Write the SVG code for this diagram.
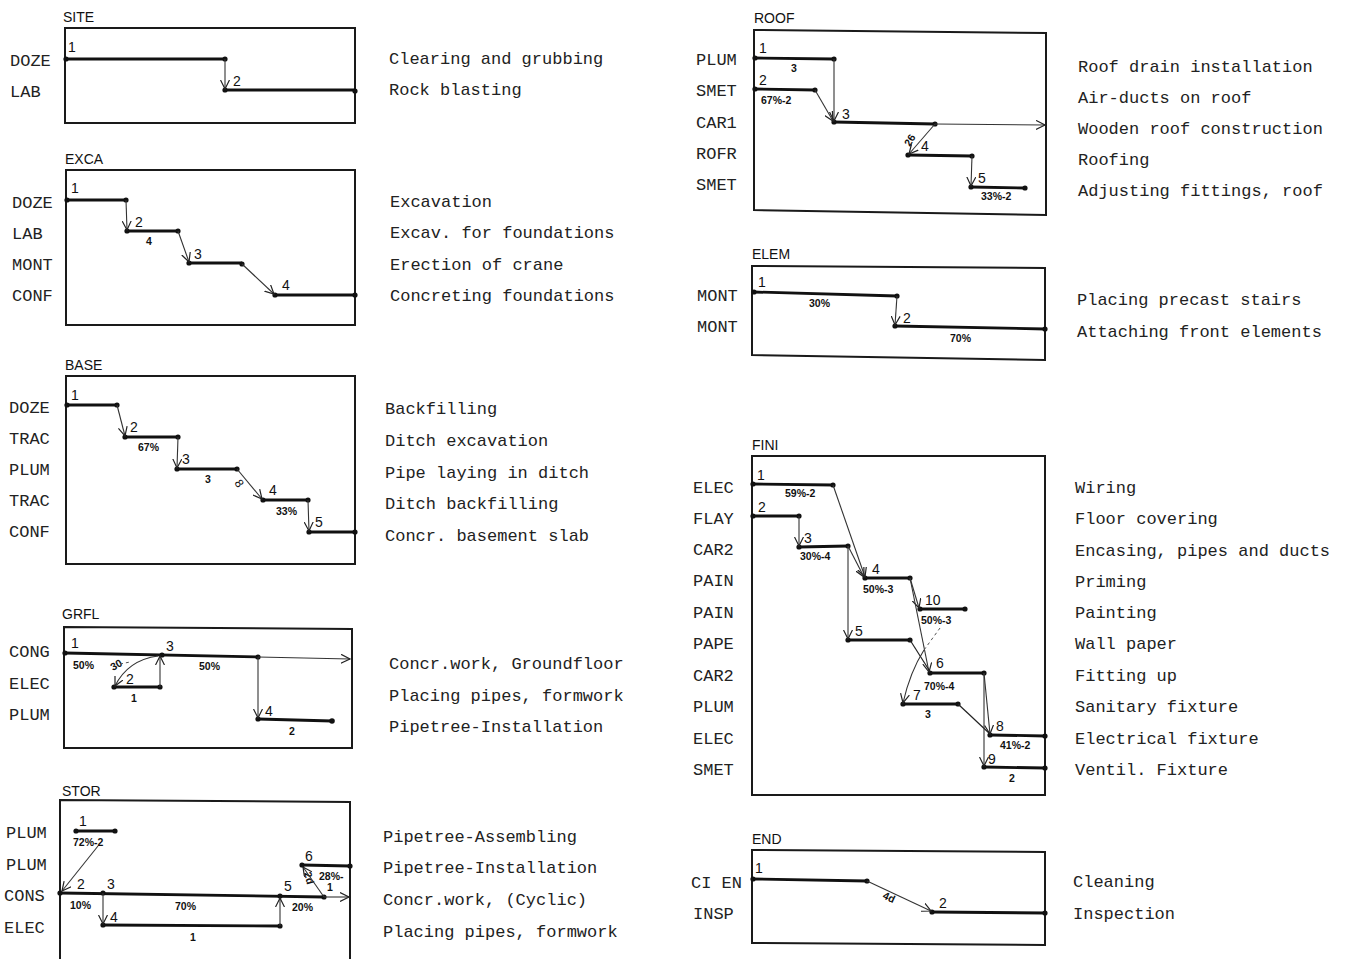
<svg xmlns="http://www.w3.org/2000/svg" width="1346" height="959" viewBox="0 0 1346 959">
<defs>
<marker id="ah" markerUnits="userSpaceOnUse" markerWidth="11" markerHeight="10" refX="9" refY="5" orient="auto"><path d="M0,0.5 L9,5 L0,9.5" fill="none" stroke="#222" stroke-width="1.2"/></marker>
</defs>
<style>
.box{fill:none;stroke:#1a1a1a;stroke-width:2}
.bar{fill:none;stroke:#111;stroke-width:2.8}
.thin{fill:none;stroke:#222;stroke-width:1.2}
.arr{fill:none;stroke:#333;stroke-width:1.1;marker-end:url(#ah)}
.dash{fill:none;stroke:#555;stroke-width:1;stroke-dasharray:3 3}
.dot{fill:#111}
.ttl{font-family:"Liberation Sans",Arial,sans-serif;font-size:14px;fill:#111}
.row{font-family:"Liberation Mono","DejaVu Sans Mono",monospace;font-size:17px;fill:#222}
.desc{font-family:"Liberation Mono","DejaVu Sans Mono",monospace;font-size:17px;fill:#222}
.num{font-family:"Liberation Sans",Arial,sans-serif;font-size:14px;fill:#111}
.pct{font-family:"Liberation Sans",Arial,sans-serif;font-size:10.5px;font-weight:bold;fill:#111}
</style>
<rect width="1346" height="959" fill="#fff"/>

<g id="site">
<text class="ttl" x="63" y="22">SITE</text>
<rect class="box" x="65" y="28" width="290" height="95"/>
<text class="row" x="10" y="66">DOZE</text><text class="row" x="10" y="97">LAB</text>
<path class="bar" d="M66,59 H225 M225,90 H355"/>
<g class="dot"><circle cx="66" cy="59" r="2.6"/><circle cx="225" cy="59" r="2.6"/><circle cx="225" cy="90" r="2.6"/><circle cx="355" cy="91" r="2.6"/></g>
<text class="num" x="68" y="52">1</text><text class="num" x="233" y="86">2</text>
<text class="desc" x="389" y="64">Clearing and grubbing</text>
<text class="desc" x="389" y="95">Rock blasting</text>
</g>

<g id="exca">
<text class="ttl" x="65" y="164">EXCA</text>
<rect class="box" x="66" y="170" width="289" height="155"/>
<text class="row" x="12" y="208">DOZE</text><text class="row" x="12" y="239">LAB</text><text class="row" x="12" y="270">MONT</text><text class="row" x="12" y="301">CONF</text>
<path class="bar" d="M67,200 H126 M127,231 H178 M189,263 H242 M275,295 H355"/>
<g class="dot"><circle cx="67" cy="200" r="2.6"/><circle cx="126" cy="200" r="2.6"/><circle cx="127" cy="231" r="2.6"/><circle cx="178" cy="231" r="2.6"/><circle cx="189" cy="263" r="2.6"/><circle cx="242" cy="264" r="2.6"/><circle cx="275" cy="295" r="2.6"/><circle cx="355" cy="295" r="2.6"/></g>
<text class="num" x="71" y="193">1</text><text class="num" x="135" y="227">2</text><text class="num" x="194" y="259">3</text><text class="num" x="282" y="290">4</text>
<text class="pct" x="146" y="245">4</text>
<text class="desc" x="390" y="207">Excavation</text>
<text class="desc" x="390" y="238">Excav. for foundations</text>
<text class="desc" x="390" y="270">Erection of crane</text>
<text class="desc" x="390" y="301">Concreting foundations</text>
</g>

<g id="base">
<text class="ttl" x="65" y="370">BASE</text>
<rect class="box" x="66" y="376" width="289" height="188"/>
<text class="row" x="9" y="413">DOZE</text><text class="row" x="9" y="444">TRAC</text><text class="row" x="9" y="475">PLUM</text><text class="row" x="9" y="506">TRAC</text><text class="row" x="9" y="537">CONF</text>
<path class="bar" d="M67,405 H117 M125,437 H178 M177,469 H237 M263,500 H308 M309,532 H355"/>
<g class="dot"><circle cx="67" cy="405" r="2.6"/><circle cx="117" cy="405" r="2.6"/><circle cx="125" cy="437" r="2.6"/><circle cx="178" cy="437" r="2.6"/><circle cx="177" cy="469" r="2.6"/><circle cx="237" cy="469" r="2.6"/><circle cx="263" cy="500" r="2.6"/><circle cx="308" cy="500" r="2.6"/><circle cx="309" cy="532" r="2.6"/><circle cx="355" cy="532" r="2.6"/></g>
<text class="num" x="71" y="400">1</text><text class="num" x="130" y="432">2</text><text class="num" x="182" y="464">3</text><text class="num" x="269" y="495">4</text><text class="num" x="315" y="527">5</text>
<text class="pct" x="138" y="451">67%</text><text class="pct" x="205" y="483">3</text><text class="pct" x="276" y="515">33%</text>
<text class="num" transform="translate(234,483) rotate(55)" style="font-size:12px">8</text>
<text class="desc" x="385" y="414">Backfilling</text>
<text class="desc" x="385" y="446">Ditch excavation</text>
<text class="desc" x="385" y="478">Pipe laying in ditch</text>
<text class="desc" x="385" y="509">Ditch backfilling</text>
<text class="desc" x="385" y="541">Concr. basement slab</text>
</g>

<g id="grfl">
<text class="ttl" x="62" y="619">GRFL</text>
<path class="box" d="M64,627 L352,629 V748 L64,748 Z"/>
<text class="row" x="9" y="657">CONG</text><text class="row" x="9" y="689">ELEC</text><text class="row" x="9" y="720">PLUM</text>
<path class="bar" d="M65,653 L258,657 M114,687 H160 M258,719 L332,721"/>
<g class="dot"><circle cx="65" cy="653" r="2.6"/><circle cx="162" cy="655" r="2.6"/><circle cx="258" cy="657" r="2.6"/><circle cx="114" cy="687" r="2.6"/><circle cx="160" cy="687" r="2.6"/><circle cx="258" cy="719" r="2.6"/><circle cx="332" cy="721" r="2.8"/></g>
<text class="num" x="71" y="648">1</text><text class="num" x="126" y="684">2</text><text class="num" x="166" y="651">3</text><text class="num" x="265" y="716">4</text>
<text class="pct" x="73" y="669">50%</text><text class="pct" x="199" y="670">50%</text><text class="pct" x="131" y="702">1</text><text class="pct" x="289" y="735">2</text>
<text class="pct" transform="translate(113,671) rotate(-30)">30</text>
<text class="desc" x="389" y="669">Concr.work, Groundfloor</text>
<text class="desc" x="389" y="701">Placing pipes, formwork</text>
<text class="desc" x="389" y="732">Pipetree-Installation</text>
</g>

<g id="stor">
<text class="ttl" x="62" y="796">STOR</text>
<path class="box" d="M60,959 V800 L350,802 V959"/>
<text class="row" x="6" y="838">PLUM</text><text class="row" x="6" y="870">PLUM</text><text class="row" x="4" y="901">CONS</text><text class="row" x="4" y="933">ELEC</text>
<path class="bar" d="M76,831 H115 M60,893 L324,897 M103,925 L280,926 M302,865 L350,866"/>
<g class="dot"><circle cx="76" cy="831" r="2.6"/><circle cx="115" cy="831" r="2.6"/><circle cx="60" cy="893" r="2.6"/><circle cx="103" cy="893" r="2.6"/><circle cx="280" cy="896" r="2.6"/><circle cx="324" cy="897" r="2.6"/><circle cx="103" cy="925" r="2.6"/><circle cx="280" cy="926" r="2.6"/><circle cx="302" cy="865" r="2.6"/><circle cx="350" cy="866" r="2.6"/></g>
<text class="num" x="79" y="826">1</text><text class="num" x="77" y="889">2</text><text class="num" x="107" y="889">3</text><text class="num" x="110" y="922">4</text><text class="num" x="284" y="891">5</text><text class="num" x="305" y="861">6</text>
<text class="pct" x="73" y="846">72%-2</text><text class="pct" x="70" y="909">10%</text><text class="pct" x="175" y="910">70%</text><text class="pct" x="292" y="911">20%</text>
<text class="pct" x="190" y="941">1</text><text class="pct" x="319" y="880">28%-</text><text class="pct" x="327" y="891">1</text>
<text class="pct" transform="translate(304,873) rotate(75)">2d</text>
<text class="desc" x="383" y="842">Pipetree-Assembling</text>
<text class="desc" x="383" y="873">Pipetree-Installation</text>
<text class="desc" x="383" y="905">Concr.work, (Cyclic)</text>
<text class="desc" x="383" y="937">Placing pipes, formwork</text>
</g>

<g id="roof">
<text class="ttl" x="754" y="23">ROOF</text>
<path class="box" d="M754,30 L1046,33 V215 L754,210 Z"/>
<text class="row" x="696" y="65">PLUM</text><text class="row" x="696" y="96">SMET</text><text class="row" x="696" y="128">CAR1</text><text class="row" x="696" y="159">ROFR</text><text class="row" x="696" y="190">SMET</text>
<path class="bar" d="M755,58 L834,59 M755,89 L815,90 M834,122 L935,124 M908,155 L972,156 M971,187 L1025,188"/>
<g class="dot"><circle cx="755" cy="58" r="2.6"/><circle cx="834" cy="59" r="2.6"/><circle cx="755" cy="89" r="2.6"/><circle cx="815" cy="90" r="2.6"/><circle cx="834" cy="122" r="2.6"/><circle cx="935" cy="124" r="2.6"/><circle cx="908" cy="155" r="2.6"/><circle cx="972" cy="156" r="2.6"/><circle cx="971" cy="187" r="2.6"/><circle cx="1025" cy="188" r="2.6"/></g>
<text class="num" x="759" y="53">1</text><text class="num" x="759" y="85">2</text><text class="num" x="842" y="119">3</text><text class="num" x="921" y="151">4</text><text class="num" x="978" y="183">5</text>
<text class="pct" x="791" y="72">3</text><text class="pct" x="761" y="104">67%-2</text><text class="pct" x="981" y="200">33%-2</text>
<text class="pct" transform="translate(910,147) rotate(-60)">26</text>
<text class="desc" x="1078" y="72">Roof drain installation</text>
<text class="desc" x="1078" y="103">Air-ducts on roof</text>
<text class="desc" x="1078" y="134">Wooden roof construction</text>
<text class="desc" x="1078" y="165">Roofing</text>
<text class="desc" x="1078" y="196">Adjusting fittings, roof</text>
</g>

<g id="elem">
<text class="ttl" x="752" y="259">ELEM</text>
<path class="box" d="M752,266 L1045,268 V360 L752,355 Z"/>
<text class="row" x="697" y="301">MONT</text><text class="row" x="697" y="332">MONT</text>
<path class="bar" d="M754,292 L897,296 M895,326 L1045,329"/>
<g class="dot"><circle cx="754" cy="292" r="2.6"/><circle cx="897" cy="296" r="2.6"/><circle cx="895" cy="326" r="2.6"/><circle cx="1045" cy="329" r="2.6"/></g>
<text class="num" x="758" y="287">1</text><text class="num" x="903" y="323">2</text>
<text class="pct" x="809" y="307">30%</text><text class="pct" x="950" y="342">70%</text>
<text class="desc" x="1077" y="305">Placing precast stairs</text>
<text class="desc" x="1077" y="337">Attaching front elements</text>
</g>

<g id="fini">
<text class="ttl" x="752" y="450">FINI</text>
<rect class="box" x="752" y="456" width="293" height="339"/>
<text class="row" x="693" y="493">ELEC</text><text class="row" x="693" y="524">FLAY</text><text class="row" x="693" y="555">CAR2</text><text class="row" x="693" y="586">PAIN</text><text class="row" x="693" y="618">PAIN</text><text class="row" x="693" y="649">PAPE</text><text class="row" x="693" y="681">CAR2</text><text class="row" x="693" y="712">PLUM</text><text class="row" x="693" y="744">ELEC</text><text class="row" x="693" y="775">SMET</text>
<path class="bar" d="M753,484 L833,485 M753,516 H799 M799,547 L848,546 M865,578 H910 M848,640 H910 M920,609 H965 M930,673 H984 M903,704 H958 M990,735 L1045,736 M984,767 L1045,768"/>
<g class="dot"><circle cx="753" cy="484" r="2.6"/><circle cx="833" cy="485" r="2.6"/><circle cx="753" cy="516" r="2.6"/><circle cx="799" cy="516" r="2.6"/><circle cx="799" cy="547" r="2.6"/><circle cx="848" cy="546" r="2.6"/><circle cx="865" cy="578" r="2.6"/><circle cx="910" cy="578" r="2.6"/><circle cx="848" cy="640" r="2.6"/><circle cx="910" cy="640" r="2.6"/><circle cx="920" cy="609" r="2.6"/><circle cx="965" cy="609" r="2.6"/><circle cx="930" cy="673" r="2.6"/><circle cx="984" cy="673" r="2.6"/><circle cx="903" cy="704" r="2.6"/><circle cx="958" cy="704" r="2.6"/><circle cx="990" cy="735" r="2.6"/><circle cx="1045" cy="736" r="2.6"/><circle cx="984" cy="767" r="2.6"/><circle cx="1045" cy="768" r="2.6"/></g>
<text class="num" x="757" y="480">1</text><text class="num" x="758" y="512">2</text><text class="num" x="804" y="543">3</text><text class="num" x="872" y="574">4</text><text class="num" x="855" y="636">5</text><text class="num" x="925" y="605">10</text><text class="num" x="936" y="668">6</text><text class="num" x="913" y="700">7</text><text class="num" x="996" y="731">8</text><text class="num" x="988" y="764">9</text>
<text class="pct" x="785" y="497">59%-2</text><text class="pct" x="800" y="560">30%-4</text><text class="pct" x="863" y="593">50%-3</text><text class="pct" x="921" y="624">50%-3</text><text class="pct" x="924" y="690">70%-4</text><text class="pct" x="925" y="718">3</text><text class="pct" x="1000" y="749">41%-2</text><text class="pct" x="1009" y="782">2</text>
<text class="desc" x="1075" y="493">Wiring</text>
<text class="desc" x="1075" y="524">Floor covering</text>
<text class="desc" x="1075" y="556">Encasing, pipes and ducts</text>
<text class="desc" x="1075" y="587">Priming</text>
<text class="desc" x="1075" y="618">Painting</text>
<text class="desc" x="1075" y="649">Wall paper</text>
<text class="desc" x="1075" y="681">Fitting up</text>
<text class="desc" x="1075" y="712">Sanitary fixture</text>
<text class="desc" x="1075" y="744">Electrical fixture</text>
<text class="desc" x="1075" y="775">Ventil. Fixture</text>
</g>

<g id="end">
<text class="ttl" x="752" y="844">END</text>
<path class="box" d="M752,850 L1045,852 V945 L752,943 Z"/>
<text class="row" x="691" y="888">CI EN</text><text class="row" x="693" y="919">INSP</text>
<path class="bar" d="M753,879 L867,881 M932,912 L1045,913"/>
<g class="dot"><circle cx="753" cy="879" r="2.6"/><circle cx="867" cy="881" r="2.6"/><circle cx="932" cy="912" r="2.6"/><circle cx="1045" cy="913" r="2.6"/></g>
<text class="num" x="755" y="873">1</text><text class="num" x="939" y="908">2</text>
<text class="pct" transform="translate(882,898) rotate(25)">4d</text>
<text class="desc" x="1073" y="887">Cleaning</text>
<text class="desc" x="1073" y="919">Inspection</text>
</g>

<g id="connectors">
<path class="arr" d="M225,59 V89"/>
<path class="arr" d="M126,200 L127,230"/>
<path class="arr" d="M178,231 L189,262"/>
<path class="arr" d="M242,264 L274,294"/>
<path class="arr" d="M117,405 L125,436"/>
<path class="arr" d="M178,437 L177,468"/>
<path class="arr" d="M237,469 L262,499"/>
<path class="arr" d="M308,500 L309,531"/>
<path class="arr" d="M258,657 L350,659"/>
<path class="arr" d="M160,687 V656"/>
<path class="arr" d="M158,656 Q128,660 115,686"/>
<path class="dash" d="M120,664 L130,662"/>
<path class="arr" d="M258,657 V718"/>
<path class="arr" d="M98,846 L62,891"/>
<path class="arr" d="M324,897 L349,897"/>
<path class="arr" d="M103,893 V924"/>
<path class="arr" d="M280,926 V898"/>
<path class="arr" d="M324,897 L303,867"/>
<path class="arr" d="M834,59 V121"/>
<path class="arr" d="M815,90 L833,121"/>
<path class="arr" d="M935,124 L1045,125"/>
<path class="arr" d="M935,124 L909,154"/>
<path class="arr" d="M972,156 L971,186"/>
<path class="arr" d="M897,296 L895,325"/>
<path class="arr" d="M799,516 V546"/>
<path class="arr" d="M833,485 L865,577"/>
<path class="arr" d="M848,546 L864,577"/>
<path class="arr" d="M848,546 V639"/>
<path class="arr" d="M910,578 L919,608"/>
<path class="arr" d="M910,578 L929,672"/>
<path class="thin" d="M910,640 L929,670"/>
<path class="dash" d="M940,628 L924,650"/>
<path class="arr" d="M924,650 Q910,672 903,703"/>
<path class="thin" d="M958,704 L990,734"/>
<path class="arr" d="M984,673 L990,734"/>
<path class="arr" d="M984,673 V766"/>
<path class="arr" d="M867,881 L931,911"/>
</g>
</svg>
